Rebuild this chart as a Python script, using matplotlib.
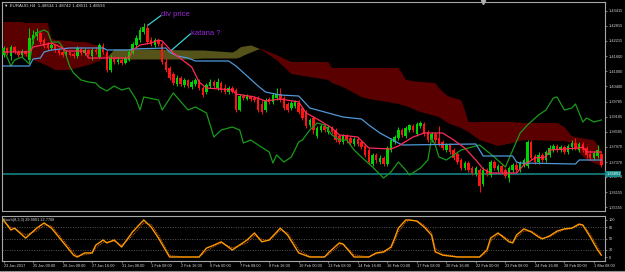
import numpy as np
import matplotlib.pyplot as plt
from matplotlib.lines import Line2D

# EURAUD H4, 23 Jan 2017 - 1 Mar 2017 (one value per bar)
opens = [1.4165, 1.4193, 1.4161, 1.4197, 1.4177, 1.4165, 1.4181, 1.4145, 1.4225, 1.4241,
         1.4253, 1.4225, 1.4209, 1.4193, 1.4205, 1.4185, 1.4177, 1.4165, 1.4177, 1.4169,
         1.4161, 1.4189, 1.4173, 1.4185, 1.4161, 1.4185, 1.4157, 1.4201, 1.4177, 1.4105,
         1.4153, 1.4137, 1.4145, 1.4133, 1.4145, 1.4173, 1.4205, 1.4225, 1.4257, 1.4273,
         1.4225, 1.4205, 1.4225, 1.4209, 1.4137, 1.4113, 1.4089, 1.4049, 1.4073, 1.4045,
         1.4065, 1.4037, 1.4049, 1.4065, 1.4033, 1.4017, 1.4041, 1.4057, 1.4033, 1.4053,
         1.4033, 1.4017, 1.4033, 1.4025, 1.3945, 1.4001, 1.3989, 1.4001, 1.3993, 1.3993,
         1.3969, 1.3945, 1.3989, 1.3977, 1.3993, 1.4009, 1.3993, 1.3969, 1.3953, 1.3961,
         1.3973, 1.3953, 1.3937, 1.3885, 1.3913, 1.3841, 1.3865, 1.3881, 1.3857, 1.3873,
         1.3865, 1.3841, 1.3817, 1.3841, 1.3833, 1.3809, 1.3829, 1.3817, 1.3801, 1.3785,
         1.3729, 1.3765, 1.3737, 1.3753, 1.3729, 1.3785, 1.3817, 1.3833, 1.3865, 1.3841,
         1.3865, 1.3881, 1.3849, 1.3881, 1.3889, 1.3857, 1.3825, 1.3849, 1.3833, 1.3817,
         1.3785, 1.3805, 1.3785, 1.3769, 1.3745, 1.3713, 1.3733, 1.3713, 1.3689, 1.3705,
         1.3649, 1.3705, 1.3685, 1.3737, 1.3705, 1.3721, 1.3705, 1.3673, 1.3705, 1.3725,
         1.3705, 1.3725, 1.3721, 1.3817, 1.3761, 1.3737, 1.3765, 1.3745, 1.3765, 1.3785,
         1.3801, 1.3785, 1.3797, 1.3777, 1.3797, 1.3813, 1.3785, 1.3809, 1.3793, 1.3769,
         1.3753, 1.3761, 1.3769]
highs = [1.4201, 1.4197, 1.4205, 1.4201, 1.4185, 1.4189, 1.4185, 1.4273, 1.4265, 1.4273,
         1.4261, 1.4233, 1.4217, 1.4213, 1.4209, 1.4193, 1.4185, 1.4185, 1.4181, 1.4177,
         1.4201, 1.4197, 1.4193, 1.4189, 1.4193, 1.4197, 1.4213, 1.4213, 1.4185, 1.4165,
         1.4161, 1.4157, 1.4153, 1.4161, 1.4185, 1.4217, 1.4245, 1.4277, 1.4293, 1.4289,
         1.4237, 1.4233, 1.4229, 1.4217, 1.4153, 1.4121, 1.4097, 1.4085, 1.4081, 1.4073,
         1.4069, 1.4065, 1.4073, 1.4069, 1.4041, 1.4053, 1.4069, 1.4065, 1.4073, 1.4061,
         1.4049, 1.4041, 1.4041, 1.4033, 1.4009, 1.4009, 1.4009, 1.4005, 1.4001, 1.4001,
         1.3985, 1.3993, 1.3997, 1.4013, 1.4033, 1.4033, 1.4001, 1.3977, 1.3981, 1.3985,
         1.3985, 1.3961, 1.3945, 1.3913, 1.3921, 1.3881, 1.3889, 1.3889, 1.3885, 1.3881,
         1.3873, 1.3849, 1.3849, 1.3849, 1.3841, 1.3837, 1.3837, 1.3825, 1.3809, 1.3793,
         1.3773, 1.3773, 1.3765, 1.3761, 1.3801, 1.3833, 1.3845, 1.3877, 1.3873, 1.3881,
         1.3889, 1.3889, 1.3897, 1.3901, 1.3897, 1.3865, 1.3857, 1.3857, 1.3881, 1.3825,
         1.3813, 1.3813, 1.3793, 1.3777, 1.3753, 1.3741, 1.3741, 1.3721, 1.3721, 1.3713,
         1.3717, 1.3713, 1.3745, 1.3745, 1.3729, 1.3729, 1.3713, 1.3721, 1.3733, 1.3737,
         1.3741, 1.3753, 1.3825, 1.3825, 1.3769, 1.3777, 1.3773, 1.3785, 1.3805, 1.3809,
         1.3809, 1.3805, 1.3805, 1.3809, 1.3825, 1.3833, 1.3817, 1.3817, 1.3801, 1.3785,
         1.3781, 1.3805, 1.3777]
lows = [1.4157, 1.4165, 1.4145, 1.4169, 1.4157, 1.4157, 1.4161, 1.4133, 1.4209, 1.4225,
        1.4209, 1.4193, 1.4185, 1.4185, 1.4177, 1.4165, 1.4157, 1.4157, 1.4161, 1.4153,
        1.4153, 1.4165, 1.4165, 1.4161, 1.4145, 1.4169, 1.4153, 1.4169, 1.4097, 1.4097,
        1.4129, 1.4129, 1.4125, 1.4129, 1.4141, 1.4169, 1.4197, 1.4217, 1.4249, 1.4209,
        1.4201, 1.4197, 1.4201, 1.4129, 1.4097, 1.4065, 1.4045, 1.4041, 1.4041, 1.4037,
        1.4033, 1.4029, 1.4041, 1.4025, 1.3997, 1.4009, 1.4033, 1.4033, 1.4025, 1.4017,
        1.4009, 1.4009, 1.4013, 1.3937, 1.3941, 1.3985, 1.3985, 1.3981, 1.3977, 1.3937,
        1.3929, 1.3937, 1.3969, 1.3969, 1.3985, 1.3977, 1.3945, 1.3937, 1.3945, 1.3953,
        1.3929, 1.3905, 1.3873, 1.3877, 1.3849, 1.3833, 1.3857, 1.3857, 1.3849, 1.3849,
        1.3817, 1.3809, 1.3809, 1.3813, 1.3805, 1.3801, 1.3801, 1.3789, 1.3757, 1.3729,
        1.3721, 1.3733, 1.3729, 1.3721, 1.3721, 1.3777, 1.3809, 1.3825, 1.3837, 1.3833,
        1.3857, 1.3857, 1.3841, 1.3873, 1.3841, 1.3817, 1.3817, 1.3813, 1.3801, 1.3785,
        1.3777, 1.3769, 1.3745, 1.3729, 1.3705, 1.3705, 1.3697, 1.3685, 1.3681, 1.3617,
        1.3641, 1.3681, 1.3677, 1.3705, 1.3697, 1.3689, 1.3673, 1.3657, 1.3697, 1.3697,
        1.3697, 1.3717, 1.3713, 1.3745, 1.3729, 1.3729, 1.3737, 1.3737, 1.3757, 1.3777,
        1.3777, 1.3777, 1.3769, 1.3769, 1.3785, 1.3785, 1.3777, 1.3777, 1.3753, 1.3745,
        1.3745, 1.3753, 1.3717]
closes = [1.4193, 1.4173, 1.4197, 1.4177, 1.4165, 1.4181, 1.4169, 1.4233, 1.4245, 1.4257,
          1.4217, 1.4201, 1.4193, 1.4205, 1.4185, 1.4173, 1.4165, 1.4177, 1.4165, 1.4161,
          1.4193, 1.4173, 1.4185, 1.4169, 1.4185, 1.4177, 1.4205, 1.4177, 1.4105, 1.4153,
          1.4137, 1.4145, 1.4133, 1.4153, 1.4177, 1.4209, 1.4233, 1.4265, 1.4277, 1.4217,
          1.4209, 1.4225, 1.4209, 1.4137, 1.4105, 1.4073, 1.4053, 1.4073, 1.4049, 1.4065,
          1.4041, 1.4057, 1.4065, 1.4033, 1.4005, 1.4045, 1.4057, 1.4041, 1.4057, 1.4025,
          1.4017, 1.4033, 1.4017, 1.3945, 1.4001, 1.3993, 1.4001, 1.3989, 1.3985, 1.3945,
          1.3937, 1.3985, 1.3977, 1.4005, 1.4009, 1.3985, 1.3953, 1.3945, 1.3973, 1.3977,
          1.3937, 1.3913, 1.3881, 1.3905, 1.3865, 1.3873, 1.3881, 1.3865, 1.3877, 1.3857,
          1.3825, 1.3817, 1.3841, 1.3825, 1.3813, 1.3829, 1.3809, 1.3797, 1.3765, 1.3737,
          1.3765, 1.3745, 1.3753, 1.3729, 1.3793, 1.3825, 1.3837, 1.3865, 1.3845, 1.3873,
          1.3885, 1.3865, 1.3889, 1.3893, 1.3849, 1.3825, 1.3849, 1.3825, 1.3809, 1.3793,
          1.3805, 1.3777, 1.3753, 1.3737, 1.3713, 1.3733, 1.3705, 1.3693, 1.3713, 1.3641,
          1.3705, 1.3689, 1.3737, 1.3713, 1.3721, 1.3697, 1.3681, 1.3713, 1.3725, 1.3705,
          1.3733, 1.3745, 1.3817, 1.3753, 1.3737, 1.3765, 1.3745, 1.3777, 1.3793, 1.3801,
          1.3785, 1.3797, 1.3777, 1.3801, 1.3813, 1.3793, 1.3809, 1.3785, 1.3765, 1.3753,
          1.3773, 1.3785, 1.3725]

# ichimoku lines, given at the bars where they turn
tenkan_bars = [0, 7, 8, 13, 16, 17, 22, 23, 34, 35, 37, 40, 42, 43, 46, 51, 53, 55, 62, 63,
               68, 71, 75, 80, 82, 85, 89, 91, 96, 99, 105, 107, 111, 114, 119, 122, 125, 128,
               130, 132, 139, 141, 144, 147, 148, 156, 157, 158, 162]
tenkan = [1.4177, 1.4177, 1.4197, 1.4213, 1.4193, 1.4181, 1.4181, 1.4153, 1.4153, 1.4185,
          1.4205, 1.4213, 1.4225, 1.4221, 1.4173, 1.4117, 1.4057, 1.4033, 1.4025, 1.4009,
          1.3997, 1.3981, 1.3989, 1.3977, 1.3933, 1.3909, 1.3873, 1.3845, 1.3837, 1.3793,
          1.3789, 1.3801, 1.3837, 1.3853, 1.3853, 1.3825, 1.3793, 1.3745, 1.3709, 1.3693,
          1.3693, 1.3725, 1.3753, 1.3757, 1.3785, 1.3793, 1.3797, 1.3777, 1.3777]
kijun_bars = [0, 7, 8, 10, 11, 13, 18, 27, 28, 34, 35, 44, 45, 47, 50, 52, 61, 63, 66, 69,
              71, 75, 80, 81, 83, 90, 92, 97, 99, 102, 105, 107, 108, 128, 129, 130, 138, 139,
              140, 155, 156, 162]
kijun = [1.4121, 1.4121, 1.4149, 1.4153, 1.4177, 1.4185, 1.4193, 1.4193, 1.4185, 1.4185,
         1.4189, 1.4193, 1.4177, 1.4161, 1.4153, 1.4141, 1.4141, 1.4121, 1.4081, 1.4041,
         1.4017, 1.4005, 1.4001, 1.3985, 1.3953, 1.3925, 1.3917, 1.3909, 1.3885, 1.3853,
         1.3829, 1.3813, 1.3805, 1.3809, 1.3785, 1.3761, 1.3761, 1.3737, 1.3733, 1.3729,
         1.3745, 1.3745]
chikou_bars = [0, 2, 3, 5, 7, 8, 9, 11, 12, 13, 15, 16, 17, 18, 19, 21, 23, 25, 26, 28,
               30, 32, 34, 36, 37, 38, 42, 43, 46, 50, 52, 55, 57, 59, 62, 64, 65, 67, 69, 72,
               73, 74, 76, 78, 80, 81, 83, 85, 87, 89, 91, 93, 95, 97, 100, 103, 105, 107, 109, 110,
               113, 115, 116, 117, 118, 120, 124, 129, 133, 136, 138, 140, 142, 145, 147, 149, 150,
               152, 154, 155, 157, 158, 160, 162]
chikou = [1.4189, 1.4121, 1.4145, 1.4157, 1.4129, 1.4225, 1.4253, 1.4265, 1.4257, 1.4217,
          1.4217, 1.4197, 1.4161, 1.4117, 1.4093, 1.4065, 1.4057, 1.4053, 1.4037, 1.4021,
          1.4041, 1.4025, 1.4033, 1.3985, 1.3945, 1.3997, 1.3985, 1.3945, 1.4013, 1.3945,
          1.3957, 1.3933, 1.3837, 1.3865, 1.3877, 1.3865, 1.3813, 1.3825, 1.3805, 1.3777,
          1.3733, 1.3765, 1.3737, 1.3757, 1.3817, 1.3825, 1.3865, 1.3893, 1.3885, 1.3845,
          1.3825, 1.3825, 1.3785, 1.3757, 1.3717, 1.3673, 1.3697, 1.3737, 1.3705, 1.3685,
          1.3713, 1.3745, 1.3833, 1.3805, 1.3757, 1.3745, 1.3785, 1.3805, 1.3757, 1.3717,
          1.3785, 1.3853, 1.3885, 1.3925, 1.3945, 1.3993, 1.3997, 1.3945, 1.3953, 1.3969,
          1.3897, 1.3913, 1.3897, 1.3905]
cloud_bars = [0, 3, 5, 6, 8, 12, 13, 14, 18, 20, 22, 24, 26, 27, 28, 29, 30, 40, 50, 54,
              62, 63, 64, 65, 67, 69, 70, 74, 78, 88, 89, 92, 95, 97, 99, 104, 107, 108, 109, 113,
              117, 118, 120, 121, 124, 125, 126, 129, 134, 138, 141, 150, 152, 154, 155, 158,
              160, 162]
span_a = [1.4185, 1.4177, 1.4161, 1.4157, 1.4145, 1.4121, 1.4113, 1.4105, 1.4105, 1.4113,
          1.4121, 1.4129, 1.4141, 1.4149, 1.4157, 1.4173, 1.4189, 1.4189, 1.4185, 1.4185,
          1.4177, 1.4185, 1.4197, 1.4201, 1.4205, 1.4193, 1.4185, 1.4145, 1.4089, 1.4065,
          1.4053, 1.4037, 1.4013, 1.3997, 1.3989, 1.3977, 1.3969, 1.3965, 1.3961, 1.3937,
          1.3921, 1.3917, 1.3897, 1.3889, 1.3873, 1.3865, 1.3857, 1.3825, 1.3801, 1.3813,
          1.3825, 1.3821, 1.3821, 1.3813, 1.3793, 1.3745, 1.3733, 1.3721]
span_b = [1.4297, 1.4297, 1.4297, 1.4293, 1.4293, 1.4293, 1.4233, 1.4225, 1.4221, 1.4217,
          1.4217, 1.4209, 1.4201, 1.4177, 1.4161, 1.4153, 1.4149, 1.4149, 1.4149, 1.4153,
          1.4153, 1.4153, 1.4157, 1.4165, 1.4177, 1.4189, 1.4189, 1.4165, 1.4137, 1.4137,
          1.4113, 1.4113, 1.4113, 1.4113, 1.4113, 1.4113, 1.4113, 1.4093, 1.4065, 1.4057,
          1.4053, 1.4033, 1.4005, 1.3997, 1.3985, 1.3945, 1.3897, 1.3897, 1.3897, 1.3897,
          1.3893, 1.3893, 1.3877, 1.3841, 1.3837, 1.3829, 1.3825, 1.3785]

# Stoch(8,3,3)
stoch_bars = [0, 2, 3, 6, 9, 11, 13, 19, 20, 22, 24, 25, 27, 28, 30, 32, 35, 38, 40, 42,
              45, 49, 53, 55, 57, 59, 62, 66, 68, 70, 72, 75, 77, 80, 83, 87, 88, 91, 92, 95,
              99, 101, 103, 105, 106, 107, 109, 110, 112, 114, 116, 117, 119, 123, 129, 131, 132,
              134, 135, 137, 138, 139, 141, 143, 145, 146, 148, 150, 152, 154, 156, 157, 159, 161, 162]
stoch_main = [100, 73, 78, 51, 78, 92, 78, 5, 0, 11, 11, 32, 46, 38, 46, 27, 68, 100, 81, 51,
              0, 0, 0, 24, 32, 41, 19, 46, 65, 41, 46, 78, 59, 11, 0, 0, 11, 38, 35, 0,
              0, 11, 14, 27, 51, 78, 100, 100, 97, 81, 59, 14, 5, 0, 0, 19, 51, 65, 57, 41,
              38, 59, 76, 68, 54, 49, 57, 70, 76, 78, 89, 86, 54, 19, 5]
stoch_signal = [95, 80, 76, 60, 70, 86, 84, 12, 3, 6, 10, 24, 40, 40, 43, 32, 58, 92, 88, 60,
                4, 0, 0, 16, 28, 38, 25, 38, 58, 48, 44, 72, 66, 20, 2, 0, 6, 30, 36, 6,
                0, 8, 12, 22, 42, 68, 94, 100, 98, 86, 66, 24, 8, 1, 0, 12, 42, 60, 60, 46,
                40, 52, 70, 70, 58, 51, 54, 66, 74, 77, 86, 87, 62, 28, 10]

time_labels = ["23 Jan 2017", "25 Jan 00:00", "26 Jan 08:00", "27 Jan 16:00", "31 Jan 00:00",
               "1 Feb 08:00", "2 Feb 16:00", "6 Feb 00:00", "7 Feb 08:00", "8 Feb 16:00",
               "10 Feb 00:00", "13 Feb 08:00", "14 Feb 16:00", "16 Feb 00:00", "17 Feb 08:00",
               "20 Feb 16:00", "22 Feb 00:00", "23 Feb 08:00", "24 Feb 16:00", "28 Feb 00:00",
               "1 Mar 08:00"]
price_ticks = [1.43415, 1.42815, 1.42215, 1.41600, 1.41000, 1.40400, 1.39785, 1.39185,
               1.38585, 1.37970, 1.37370, 1.36770, 1.36155, 1.35555]
last_price = 1.36891

# hand-drawn notes on the chart: text, anchor (bar, price), text spot (bar, price)
notes = [("div price", 39.2, 1.4285, 42.8, 1.4325),
         ("katana ?", 45.6, 1.4185, 50.8, 1.4252)]

BULL = '#00d400'
BEAR = '#ff1414'
GRID = '#a8a8a8'
TXT = '#d8d8d8'
TEAL = '#168c8c'
SMALL = 2.8

plt.rcParams['font.family'] = ['Liberation Sans', 'DejaVu Sans']

fig = plt.figure(figsize=(6.25, 2.72), dpi=100, facecolor='black')
ax = fig.add_axes([2 / 625, 1 - 211 / 272, 603 / 625, 209 / 272], facecolor='black')
ax2 = fig.add_axes([2 / 625, 1 - 261 / 272, 603 / 625, 45 / 272], facecolor='black')

# cloud
cb = np.array(cloud_bars)
sa = np.array(span_a)
sb = np.array(span_b)
ax.fill_between(cb, sa, sb, where=sb >= sa, interpolate=True, color='#5a0000', lw=0, zorder=1)
ax.fill_between(cb, sa, sb, where=sa > sb, interpolate=True, color='#55521a', lw=0, zorder=1)

# candles
o = np.array(opens)
c = np.array(closes)
x = np.arange(len(c))
cols = np.where(c >= o, BULL, BEAR)
ax.vlines(x, lows, highs, colors=cols, lw=0.7, zorder=3)
ax.bar(x, np.abs(c - o), bottom=np.minimum(o, c), width=0.68, color=cols, lw=0, zorder=4)

# lines
ax.plot(chikou_bars, chikou, color='#1a9a1a', lw=0.9, zorder=5)
ax.plot(kijun_bars, kijun, color='#4d98d8', lw=0.9, zorder=5)
ax.plot(tenkan_bars, tenkan, color='#ff2a5a', lw=0.9, zorder=6)
ax.axhline(last_price, color=TEAL, lw=1.1, zorder=2)

for label, bx, by, tx, ty in notes:
    ax.plot([bx, tx - 0.2], [by, ty - 0.0003], color='#38d0d0', lw=0.9, zorder=7)
    ax.text(tx, ty, label, color='#9a28d8', fontsize=5.5, va='center', ha='left', zorder=8)

ax.set_xlim(-0.41, 163.0)
ax.set_ylim(1.3541, 1.4377)
ax.set_xticks([])
ax.yaxis.tick_right()
ax.set_yticks(price_ticks)
ax.set_yticklabels([f"{v:.5f}" for v in price_ticks])
ax.tick_params(axis='y', colors=GRID, labelcolor=TXT, labelsize=SMALL, length=1.5, width=0.5, pad=1)
for s in ax.spines.values():
    s.set_color(GRID)
    s.set_linewidth(0.8)
ax.text(1.002, last_price, f"{last_price:.5f}", transform=ax.get_yaxis_transform(),
        fontsize=SMALL, color='white', va='center', ha='left', clip_on=False,
        bbox=dict(facecolor=TEAL, edgecolor='none', pad=0.6), zorder=9)
ax.plot([130], [1.4377], marker='v', color='#b0b0b0', markersize=3, clip_on=False, zorder=9)

# stochastic
ax2.plot(stoch_bars, stoch_signal, color='#d06010', lw=0.7, ls=(0, (1, 1)), zorder=2)
ax2.plot(stoch_bars, stoch_main, color='#ff9a00', lw=1.0, zorder=3)
for lvl in (20, 50, 80):
    ax2.axhline(lvl, color='#707070', lw=0.5, ls=(0, (1.5, 2)), zorder=1)
ax2.set_xlim(-0.41, 163.0)
ax2.set_ylim(-10.8, 110.8)
ax2.yaxis.tick_right()
ax2.set_yticks([0, 20, 50, 80, 100])
ax2.set_yticklabels(['0', '20', '50', '80', '100'])
ax2.set_xticks(np.arange(0, 8 * len(time_labels), 8))
ax2.set_xticklabels(time_labels, ha='left')
ax2.tick_params(axis='y', colors=GRID, labelcolor=TXT, labelsize=SMALL, length=1.5, width=0.5, pad=1)
ax2.tick_params(axis='x', colors=GRID, labelcolor=TXT, labelsize=SMALL, length=1.5, width=0.5, pad=0.8)
for s in ax2.spines.values():
    s.set_color(GRID)
    s.set_linewidth(0.8)

fig.text(4 / 625, 1 - 6 / 272, "\u25bc EURAUD,H4  1.48634 1.48742 1.48511 1.48596",
         color=TXT, fontsize=3.2, va='center', ha='left')
fig.text(3 / 625, 1 - 220 / 272, "Stoch(8,3,3) 29.9901 22.7708",
         color=TXT, fontsize=2.8, va='center', ha='left')
fig.add_artist(Line2D([0, 1], [1.5 / 272, 1.5 / 272], color='#909090', lw=0.8))

fig.savefig('out.png', dpi=100, facecolor='black')
